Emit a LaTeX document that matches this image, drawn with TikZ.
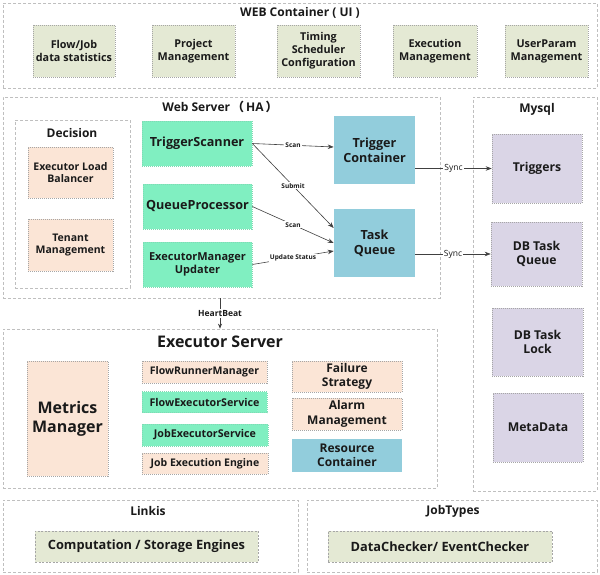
\documentclass[tikz,border=0pt]{standalone}
\usepackage{fontspec}
\setmainfont{Open Sans}
\newfontfamily\cjk{Noto Sans CJK SC}
\usetikzlibrary{arrows.meta,calc}
\definecolor{olivebg}{HTML}{E4E9D4}
\definecolor{peachbg}{HTML}{FBE5D6}
\definecolor{mintbg}{HTML}{80EFC1}
\definecolor{bluebg}{HTML}{92CDDC}
\definecolor{lavbg}{HTML}{DAD5E6}
\definecolor{frame}{HTML}{BFBFBF}
\definecolor{boxline}{HTML}{A6A6A6}
\definecolor{txt}{HTML}{1A1A1A}
\newcommand{\fs}[1]{\fontsize{#1}{\fpeval{#1*1.2}}\selectfont\bfseries}
\tikzset{
  container/.style={draw=frame, line width=0.7pt, dash pattern=on 3pt off 2pt, inner sep=0pt},
  title/.style={text=txt, font=\fs{12}},
  boxbase/.style={inner sep=0pt, align=center, text=txt, line width=0.6pt, dash pattern=on 1pt off 1pt},
  olivebox/.style={boxbase, fill=olivebg, draw=boxline, font=\fs{10.8}},
  peachbox/.style={boxbase, fill=peachbg, draw=boxline, font=\fs{10.5}},
  mintbox/.style={boxbase, fill=mintbg, draw=mintbg!80!gray, font=\fs{12.6}},
  bluebox/.style={boxbase, fill=bluebg, font=\fs{12.6}},
  lavbox/.style={boxbase, fill=lavbg, draw=boxline, font=\fs{12.2}},
  conn/.style={draw=black!75, line width=0.6pt, -{Stealth[length=6pt,width=4.5pt]}},
  lbl/.style={fill=white, inner sep=1pt, text=txt, font=\fs{6.5}},
}
\begin{document}
\begin{tikzpicture}[x=1pt,y=-1pt]
\useasboundingbox (0,0) rectangle (600,575);
\fill[white] (0,0) rectangle (600,575);
% WEB container
\node[container, minimum width=594pt, minimum height=85pt] (webc) at (300,45.5) {};
\node[title] (webct) at (300,13) {WEB Container ( UI )};
\node[olivebox, minimum width=82pt, minimum height=52pt] (flow) at (74,51) {Flow/Job\\data statistics};
\node[olivebox, minimum width=83pt, minimum height=52pt] (proj) at (193.5,51) {Project\\Management};
\node[olivebox, minimum width=83pt, minimum height=52pt] (timing) at (318.5,51) {Timing\\Scheduler\\Configuration};
\node[olivebox, minimum width=84pt, minimum height=52pt] (execm) at (435,51) {Execution\\Management};
\node[olivebox, minimum width=83pt, minimum height=52pt] (userp) at (546.5,51) {UserParam\\Management};
% Web server
\node[container, minimum width=437pt, minimum height=201pt] (websrv) at (221.5,197.5) {};
\node[title] (websrvt) at (220,107) {Web Server\,{\cjk\bfseries （}\,HA\,{\cjk\bfseries ）}};
\node[container, minimum width=115pt, minimum height=168pt] (dec) at (72.5,204) {};
\node[title] (dect) at (72,133) {Decision};
\node[peachbox, minimum width=85pt, minimum height=51pt] (elb) at (70.5,172.5) {Executor Load\\Balancer};
\node[peachbox, minimum width=85pt, minimum height=52pt] (tenant) at (70.5,245) {Tenant\\Management};
\node[mintbox, minimum width=110pt, minimum height=45pt] (ts) at (197,143.5) {TriggerScanner};
\node[mintbox, minimum width=109pt, minimum height=45pt] (qp) at (197.5,206.5) {QueueProcessor};
\node[mintbox, minimum width=109pt, minimum height=45pt, font=\fs{11}] (emu) at (197.5,264.5) {ExecutorManager\\Updater};
\node[bluebox, minimum width=81pt, minimum height=68pt] (tc) at (374.5,150) {Trigger\\Container};
\node[bluebox, minimum width=81pt, minimum height=68pt] (tq) at (374.5,243) {Task\\Queue};
% Mysql
\node[container, minimum width=124pt, minimum height=394pt] (mysql) at (535,294) {};
\node[title] (mysqlt) at (537,109) {Mysql};
\node[lavbox, minimum width=90pt, minimum height=69pt] (trig) at (537,168.5) {Triggers};
\node[lavbox, minimum width=91pt, minimum height=64pt] (dbtq) at (536.5,254) {DB Task\\Queue};
\node[lavbox, minimum width=91pt, minimum height=68pt] (dblock) at (537.5,342) {DB Task\\Lock};
\node[lavbox, minimum width=90pt, minimum height=69pt] (meta) at (538,427.5) {MetaData};
% Executor server
\node[container, minimum width=434pt, minimum height=159pt] (exsrv) at (220,408.5) {};
\node[title, font=\fs{16}] (exsrvt) at (220,342) {Executor Server};
\node[peachbox, minimum width=81pt, minimum height=115pt, font=\fs{16}] (metrics) at (67.5,418.5) {Metrics\\Manager};
\node[peachbox, minimum width=125pt, minimum height=22pt] (frm) at (204.5,372) {FlowRunnerManager};
\node[mintbox, minimum width=125pt, minimum height=21pt, font=\fs{10.7}] (fes) at (204.5,402) {FlowExecutorService};
\node[mintbox, minimum width=126pt, minimum height=22pt, font=\fs{10.7}] (jes) at (205,435) {JobExecutorService};
\node[peachbox, minimum width=126pt, minimum height=21pt] (jee) at (205,463.5) {Job Execution Engine};
\node[peachbox, minimum width=110pt, minimum height=31pt, font=\fs{12}] (fail) at (347,376.5) {Failure\\Strategy};
\node[peachbox, minimum width=110pt, minimum height=32pt, font=\fs{12}] (alarm) at (347,414) {Alarm\\Management};
\node[bluebox, minimum width=110pt, minimum height=33pt, font=\fs{12}] (res) at (347,455.5) {Resource\\Container};
% Linkis / JobTypes
\node[container, minimum width=295pt, minimum height=72pt] (linkis) at (150.5,536) {};
\node[title] (linkist) at (148,511) {Linkis};
\node[olivebox, minimum width=223pt, minimum height=31pt, font=\fs{12.8}, dash pattern=on 2pt off 1.5pt] (comp) at (146.5,546.5) {Computation / Storage Engines};
\node[container, minimum width=290pt, minimum height=72pt] (jobt) at (452,536) {};
\node[title] (jobtt) at (453,511) {JobTypes};
\node[olivebox, minimum width=224pt, minimum height=31pt, font=\fs{12.8}, dash pattern=on 2pt off 1.5pt] (dc) at (440,546.5) {DataChecker/ EventChecker};
% connectors
\draw[conn] (ts.east) -- node[lbl] {Scan} ([yshift=3pt]tc.west);
\draw[conn] (ts.east) -- node[lbl] {Submit} ([yshift=15pt]tq.west);
\draw[conn] (qp.east) -- node[lbl] {Scan} (tq.west);
\draw[conn] (emu.east) -- node[lbl] {Update Status} ([yshift=-8pt]tq.west);
\draw[conn] (tc.east |- trig.west) -- node[lbl, font=\mdseries\fontsize{8.5}{10}\selectfont] {Sync} (trig.west);
\draw[conn] (tq.east |- dbtq.west) -- node[lbl, font=\mdseries\fontsize{8.5}{10}\selectfont] {Sync} (dbtq.west);
\draw[conn, -{Stealth[length=5pt,width=4pt]}] (websrv.south -| exsrv.north) -- node[lbl, font=\fs{8.5}] {HeartBeat} (exsrv.north);
\end{tikzpicture}
\end{document}
